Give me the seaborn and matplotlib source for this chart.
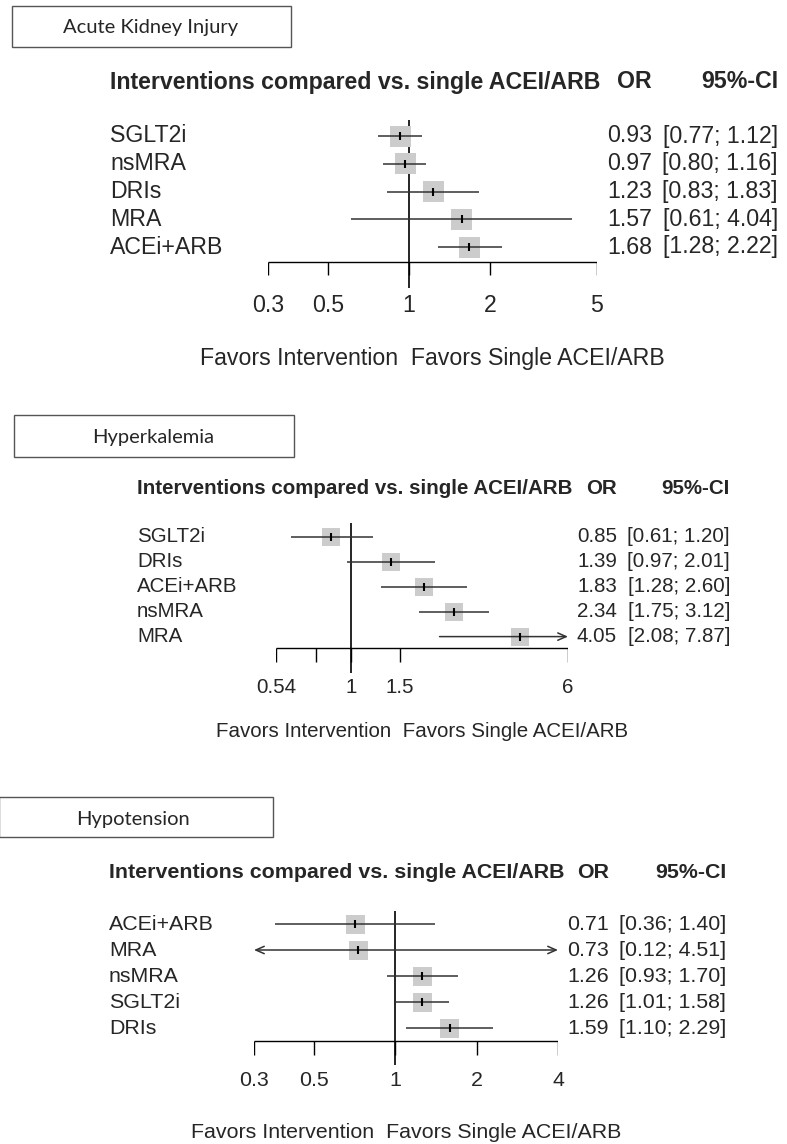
import pandas as pd
import matplotlib
matplotlib.use('Agg')
import matplotlib.pyplot as plt
import matplotlib.transforms as mtransforms
from matplotlib.patches import Rectangle
import seaborn as sns

# --- data ---
aki_labels = ['SGLT2i', 'nsMRA', 'DRIs', 'MRA', 'ACEi+ARB']
aki_or = [0.93, 0.97, 1.23, 1.57, 1.68]
aki_lo = [0.77, 0.80, 0.83, 0.61, 1.28]
aki_hi = [1.12, 1.16, 1.83, 4.04, 2.22]
aki_ticks = [0.3, 0.5, 1, 2, 5]
aki_ticklabels = ['0.3', '0.5', '1', '2', '5']

hyper_labels = ['SGLT2i', 'DRIs', 'ACEi+ARB', 'nsMRA', 'MRA']
hyper_or = [0.85, 1.39, 1.83, 2.34, 4.05]
hyper_lo = [0.61, 0.97, 1.28, 1.75, 2.08]
hyper_hi = [1.20, 2.01, 2.60, 3.12, 7.87]
hyper_ticks = [0.54, 0.75, 1, 1.5, 6]
hyper_ticklabels = ['0.54', '', '1', '1.5', '6']

hypo_labels = ['ACEi+ARB', 'MRA', 'nsMRA', 'SGLT2i', 'DRIs']
hypo_or = [0.71, 0.73, 1.26, 1.26, 1.59]
hypo_lo = [0.36, 0.12, 0.93, 1.01, 1.10]
hypo_hi = [1.40, 4.51, 1.70, 1.58, 2.29]
hypo_ticks = [0.3, 0.5, 1, 2, 4]
hypo_ticklabels = ['0.3', '0.5', '1', '2', '4']

header = 'Interventions compared vs. single ACEI/ARB'
favors = 'Favors Intervention  Favors Single ACEI/ARB'

W, H = 787, 1144

sns.set_theme(style='white')
plt.rcParams['font.family'] = ['Liberation Sans', 'DejaVu Sans']

fig = plt.figure(figsize=(W / 100, H / 100), dpi=100)


def fx(px):
    return px / W


def fy(py):
    return 1 - py / H


def forest_panel(title, labels, est, lo, hi, ticks, ticklabels, lay):
    x0, x1 = lay['axis']
    top, bot = lay['ref']
    ax = fig.add_axes([fx(x0), fy(bot), fx(x1) - fx(x0), (bot - top) / H])
    ax.set_xscale('log')
    tmin, tmax = ticks[0], ticks[-1]
    ax.set_xlim(tmin, tmax)
    ax.set_ylim(bot, top)
    fs = lay['fs']
    rows = [lay['row0'] + i * lay['step'] for i in range(len(labels))]
    trans = mtransforms.blended_transform_factory(fig.transFigure, ax.transData)

    # title box
    bx0, by0, bx1, by1 = lay['box']
    fig.add_artist(Rectangle((fx(bx0), fy(by1)), fx(bx1) - fx(bx0), (by1 - by0) / H,
                             transform=fig.transFigure, fill=False,
                             edgecolor='#555555', lw=1.0))
    fig.text(fx(lay['box_text'][0]), fy(lay['box_text'][1]), title,
             ha='center', va='center', fontsize=lay['box_fs'], family=['Lato', 'DejaVu Sans'])

    # header
    ax.text(fx(lay['label_x']), lay['header_y'], header, transform=trans,
            ha='left', va='center', fontsize=fs, fontweight='bold')
    ax.text(fx(lay['or_right']), lay['header_y'], 'OR', transform=trans,
            ha='right', va='center', fontsize=fs, fontweight='bold')
    ax.text(fx(lay['ci_right']), lay['header_y'], '95%-CI', transform=trans,
            ha='right', va='center', fontsize=fs, fontweight='bold')

    # reference line at OR = 1
    ax.axvline(1, color='black', lw=1.2, zorder=1)

    # squares
    df = pd.DataFrame({'est': est, 'row': rows})
    side = lay['sq'] * 0.72
    sns.scatterplot(data=df, x='est', y='row', marker='s', s=side ** 2,
                    color='#cccccc', edgecolor='none', linewidth=0,
                    ax=ax, zorder=2, legend=False)
    ax.axis('off')

    # confidence intervals
    for y, l, h in zip(rows, lo, hi):
        lc, hc = max(l, tmin), min(h, tmax)
        if l < tmin or h > tmax:
            style = '<->' if (l < tmin and h > tmax) else ('->' if h > tmax else '<-')
            ax.annotate('', xy=(hc, y), xytext=(lc, y),
                        arrowprops=dict(arrowstyle=style + ',head_length=0.5,head_width=0.22',
                                        color='#333333', lw=1.1, shrinkA=0, shrinkB=0),
                        zorder=3)
        else:
            ax.hlines(y, lc, hc, color='#333333', lw=1.1, zorder=3)
    ax.plot(est, rows, ls='none', marker='|', ms=6, mew=1.5, color='black', zorder=4)

    # x axis drawn as in the meta forest style
    ay = lay['axis_y']
    ax.hlines(ay, tmin, tmax, color='black', lw=1.0, zorder=1)
    ax.vlines(ticks, ay, lay['tick_bot'], color='black', lw=1.0, zorder=1)
    for t, tl in zip(ticks, ticklabels):
        ax.text(t, lay['ticklab_y'], tl, ha='center', va='center', fontsize=fs)

    # row labels and estimates
    for y, name, e, l, h in zip(rows, labels, est, lo, hi):
        ax.text(fx(lay['label_x']), y, name, transform=trans,
                ha='left', va='center', fontsize=fs)
        ax.text(fx(lay['or_right']), y, f'{e:.2f}', transform=trans,
                ha='right', va='center', fontsize=fs)
        ax.text(fx(lay['ci_right']), y, f'[{l:.2f}; {h:.2f}]', transform=trans,
                ha='right', va='center', fontsize=fs)

    ax.text(0.5, lay['favors_y'], favors,
            transform=mtransforms.blended_transform_factory(ax.transAxes, ax.transData),
            ha='center', va='center', fontsize=fs)
    return ax


forest_panel('Acute Kidney Injury', aki_labels, aki_or, aki_lo, aki_hi,
             aki_ticks, aki_ticklabels,
             dict(box=(12, 6, 291, 47), box_text=(151, 28), box_fs=14.5,
                  fs=16.7, header_y=82, label_x=110, row0=136, step=27.75,
                  axis=(268, 597), axis_y=262, tick_bot=275, ticklab_y=305,
                  ref=(120, 288), or_right=652, ci_right=778, favors_y=358, sq=21))

forest_panel('Hyperkalemia', hyper_labels, hyper_or, hyper_lo, hyper_hi,
             hyper_ticks, hyper_ticklabels,
             dict(box=(13.5, 415, 293.5, 457), box_text=(153, 437), box_fs=14.5,
                  fs=14.8, header_y=488, label_x=137, row0=537, step=24.9,
                  axis=(276, 568), axis_y=648, tick_bot=662, ticklab_y=687,
                  ref=(523, 673), or_right=617, ci_right=730, favors_y=731, sq=18))

forest_panel('Hypotension', hypo_labels, hypo_or, hypo_lo, hypo_hi,
             hypo_ticks, hypo_ticklabels,
             dict(box=(-1, 797, 273, 837), box_text=(133, 819), box_fs=14.5,
                  fs=15.4, header_y=873, label_x=109, row0=924, step=26,
                  axis=(254, 558), axis_y=1041, tick_bot=1055, ticklab_y=1080,
                  ref=(911, 1065), or_right=609, ci_right=726, favors_y=1132, sq=19))

fig.savefig('out.png', dpi=100, facecolor='white')
